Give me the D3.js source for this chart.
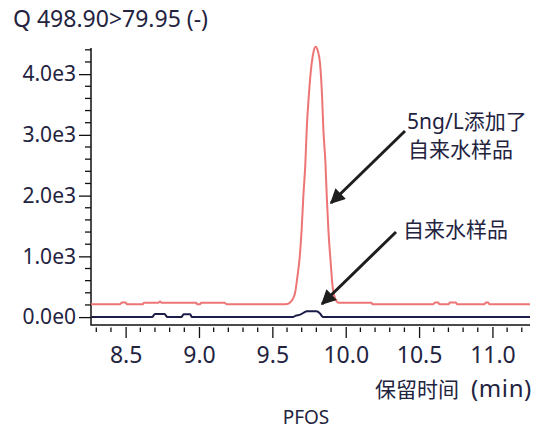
<!DOCTYPE html>
<html>
<head>
<meta charset="utf-8">
<script src="https://cdn.jsdelivr.net/npm/d3@7"></script>
<style>
  html, body { margin: 0; padding: 0; background: #ffffff; }
  svg { display: block; }
  text { font-family: "Noto Sans", "Noto Sans CJK SC", sans-serif; fill: #23233f; }
</style>
</head>
<body>
<svg id="chart" width="540" height="432"></svg>
<script>
// ---- data ----
const title = "Q 498.90>79.95 (-)";
const xLabelMain = "保留时间";
const xLabelUnit = "(min)";
const compound = "PFOS";
const spikedLabel = ["5ng/L添加了", "自来水样品"];
const tapLabel = "自来水样品";

const xTicks = [8.5, 9.0, 9.5, 10.0, 10.5, 11.0];
const yTicks = [0, 1000, 2000, 3000, 4000];
const yTickLabels = ["0.0e0", "1.0e3", "2.0e3", "3.0e3", "4.0e3"];

// spiked tap water trace (time in min, intensity)
const spikedTime = [8.264, 8.46, 8.475, 8.5, 8.51, 8.615, 8.625, 8.72, 8.735, 8.745, 8.98, 8.99, 9.005, 9.015, 9.175, 9.19,
  9.57, 9.60, 9.62, 9.64, 9.655, 9.67, 9.685, 9.70, 9.711, 9.725, 9.734, 9.748, 9.768, 9.782, 9.795, 9.81,
  9.825, 9.839, 9.848, 9.862, 9.871, 9.882, 9.898, 9.91, 9.922, 9.937, 9.952, 10.175, 10.185,
  10.595, 10.61, 10.63, 10.64, 10.70, 10.71, 10.75, 10.76, 10.945, 10.955, 10.97, 10.98, 11.256];
const spikedValue = [210, 210, 240, 240, 210, 210, 235, 235, 255, 235, 235, 210, 210, 235, 235, 210,
  210, 215, 240, 300, 400, 650, 950, 1450, 1980, 2530, 3078, 3627, 4176, 4380, 4450, 4380,
  4176, 3627, 3078, 2530, 1980, 1432, 884, 520, 350, 265, 235, 235, 210,
  210, 240, 240, 210, 210, 240, 240, 210, 210, 240, 240, 210, 210];

// tap water trace
const tapTime = [8.264, 8.68, 8.70, 8.765, 8.785, 8.88, 8.895, 8.94, 8.952, 9.64, 9.66, 9.69, 9.715, 9.735, 9.80, 9.825, 9.845, 11.256];
const tapValue = [0, 0, 50, 50, 0, 0, 45, 45, 0, 0, 25, 40, 75, 95, 95, 60, 0, 0];

// ---- layout ----
const svg = d3.select("#chart");
const x = d3.scaleLinear().domain([8.264, 11.256]).range([91, 530]);
const y = d3.scaleLinear().domain([-130, 4430]).range([325, 48]);

// title
svg.append("text").attr("x", 13).attr("y", 27).attr("font-size", 23).text(title);

// y axis
const yAxisMajor = d3.axisLeft(y).tickValues(yTicks).tickSize(12).tickPadding(3)
  .tickFormat((d, i) => yTickLabels[i]);
const gy = svg.append("g").attr("transform", "translate(91,0)").call(yAxisMajor);
gy.select(".domain").remove();
gy.selectAll("text").attr("font-size", 21).style("font-family", "'Noto Sans', sans-serif").attr("fill", "#23233f");
gy.selectAll("line").attr("stroke", "#111").attr("stroke-width", 1.3);
const yMinor = d3.range(200, 4401, 200).filter(v => v % 1000 !== 0);
svg.append("g").selectAll("line").data(yMinor).join("line")
  .attr("x1", 85).attr("x2", 91).attr("y1", d => y(d)).attr("y2", d => y(d))
  .attr("stroke", "#111").attr("stroke-width", 1.3);

// x axis
const xMinor = d3.range(83, 113).map(v => v / 10).filter(v => Math.round(v * 10) % 5 !== 0);
svg.append("g").selectAll("line").data(xMinor).join("line")
  .attr("x1", d => x(d)).attr("x2", d => x(d)).attr("y1", 327.5).attr("y2", 332)
  .attr("stroke", "#111").attr("stroke-width", 1.3);
const gx = svg.append("g").attr("transform", "translate(0,327)")
  .call(d3.axisBottom(x).tickValues(xTicks).tickSize(11).tickPadding(9).tickFormat(d3.format(".1f")));
gx.select(".domain").remove();
gx.selectAll("text").attr("font-size", 23).style("font-family", "'Noto Sans', sans-serif").attr("fill", "#23233f");
gx.selectAll("line").attr("stroke", "#111").attr("stroke-width", 1.3);

// axis lines
svg.append("path").attr("d", "M91,48V325H530").attr("fill", "none").attr("stroke", "#111").attr("stroke-width", 1.5);

// traces
const line = d3.line().x(d => x(d[0])).y(d => y(d[1])).curve(d3.curveMonotoneX);
svg.append("path").datum(spikedTime.map((t, i) => [t, spikedValue[i]]))
  .attr("d", line).attr("fill", "none").attr("stroke", "#ee7575").attr("stroke-width", 2);
svg.append("path").datum(tapTime.map((t, i) => [t, tapValue[i]]))
  .attr("d", line).attr("fill", "none").attr("stroke", "#1b1d48").attr("stroke-width", 2);

// labels
const xl = svg.append("text").attr("x", 375).attr("y", 397)
  .style("font-family", "'Noto Sans CJK SC', 'Noto Sans', sans-serif");
xl.append("tspan").attr("font-size", 21).text(xLabelMain);
xl.append("tspan").attr("dx", 12).attr("font-size", 24).attr("letter-spacing", 0.6)
  .style("font-family", "'Noto Sans', sans-serif").text(xLabelUnit);
svg.append("text").attr("x", 306).attr("y", 424).attr("text-anchor", "middle").attr("font-size", 19).text(compound);

// annotations
svg.append("defs").append("marker").attr("id", "ah").attr("viewBox", "0 0 10 10")
  .attr("refX", 9).attr("refY", 5).attr("markerWidth", 5.5).attr("markerHeight", 5)
  .attr("orient", "auto").attr("markerUnits", "strokeWidth")
  .append("path").attr("d", "M0,0L10,5L0,10z").attr("fill", "#1e1e1e");
const ann = svg.append("g").style("font-family", "'Noto Sans CJK SC', sans-serif").attr("font-size", 21);
ann.append("text").attr("x", 407).attr("y", 129).text(spikedLabel[0]);
ann.append("text").attr("x", 408).attr("y", 157).text(spikedLabel[1]);
ann.append("text").attr("x", 403).attr("y", 237).text(tapLabel);
svg.append("line").attr("x1", 405).attr("y1", 131).attr("x2", 331).attr("y2", 203)
  .attr("stroke", "#1e1e1e").attr("stroke-width", 3).attr("marker-end", "url(#ah)");
svg.append("line").attr("x1", 396).attr("y1", 232).attr("x2", 322).attr("y2", 304)
  .attr("stroke", "#1e1e1e").attr("stroke-width", 3).attr("marker-end", "url(#ah)");
</script>
</body>
</html>
